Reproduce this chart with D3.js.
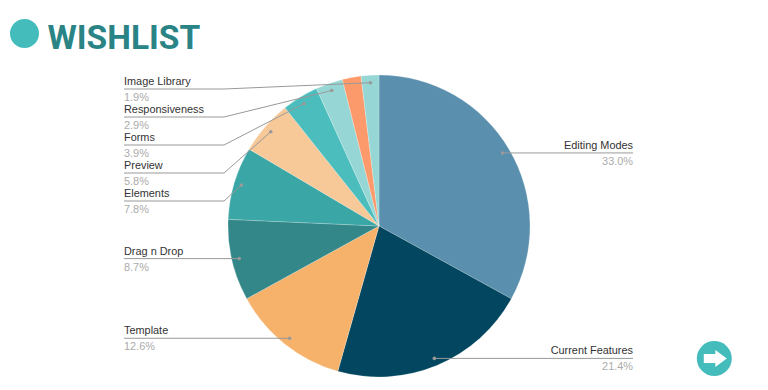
<!DOCTYPE html>
<html><head><meta charset="utf-8">
<script src="https://cdn.jsdelivr.net/npm/d3@7/dist/d3.min.js"></script>
<style>html,body{margin:0;padding:0;background:#fff}svg{display:block}</style></head>
<body><svg id="c" width="768" height="390"></svg>
<script>
const categories = ["Editing Modes","Current Features","Template","Drag n Drop","Elements","Preview","Forms","Responsiveness","","Image Library"];
const values = [33.0,21.4,12.6,8.7,7.8,5.8,3.9,2.9,2.0,1.9];
const valueLabels = ["33.0%","21.4%","12.6%","8.7%","7.8%","5.8%","3.9%","2.9%","","1.9%"];
const colors = ["#5a8fae","#02475f","#f6b26b","#338789","#3aa6a6","#f7c999","#4bbdbc","#96d7d6","#fd9a6b","#96d7d6"];
const titleText = "WISHLIST";

const svg = d3.select("#c");
const cx = 379, cy = 226, R = 151, dotR = 143.5;
const pie = d3.pie().sort(null).value(d => d)(values);
const arc = d3.arc().innerRadius(0).outerRadius(R);
const dotArc = d3.arc().innerRadius(dotR).outerRadius(dotR);

svg.append("circle").attr("cx",24.5).attr("cy",33.5).attr("r",14.5).attr("fill","#45bcbc");
svg.append("text").attr("x",47.5).attr("y",49).text(titleText)
  .attr("font-family","Roboto").attr("font-weight",700).attr("font-size",33.5).attr("fill","#2a8486");

const g = svg.append("g").attr("transform",`translate(${cx},${cy})`);
g.selectAll("path").data(pie).join("path").attr("d",arc)
  .attr("fill",(d,i)=>colors[i]).attr("stroke","#fff").attr("stroke-opacity",0.35).attr("stroke-width",0.6);

const stackTop = 89, stackGap = 28, leftX = 124, elbowX = 224, rightX = 633;
// the small slices on the upper left stack their labels, in reverse slice order
const stacked = [9,7,6,5,4];
const font = "Liberation Sans, Arial, sans-serif";
const lab = svg.append("g");
pie.forEach((d,i) => {
  if (!categories[i]) return;
  const [dx,dy] = dotArc.centroid(d);
  const px = cx+dx, py = cy+dy;
  const right = (d.startAngle+d.endAngle)/2 < Math.PI;
  const s = stacked.indexOf(i);
  const ly = s >= 0 ? stackTop + s*stackGap : py;
  const pts = right ? [[px,py],[rightX,py]]
    : s >= 0 ? [[px,py],[elbowX,ly],[leftX,ly]] : [[px,py],[leftX,py]];
  lab.append("path").attr("d",d3.line()(pts)).attr("fill","none").attr("stroke","#999").attr("stroke-width",1);
  lab.append("circle").attr("cx",px).attr("cy",py).attr("r",1.8).attr("fill","#999");
  const tx = right ? rightX : leftX, anchor = right ? "end" : "start";
  lab.append("text").attr("x",tx).attr("y",ly-4).attr("text-anchor",anchor).text(categories[i])
    .attr("font-family",font).attr("font-size",10.9).attr("fill","#333");
  lab.append("text").attr("x",tx).attr("y",ly+12).attr("text-anchor",anchor).text(valueLabels[i])
    .attr("font-family",font).attr("font-size",10.9).attr("fill","#ababab");
});

const nav = svg.append("g").attr("transform","translate(714.3,358.5)");
nav.append("circle").attr("r",17.5).attr("fill","#45bcbc");
nav.append("path").attr("d","M-10.5,-4.5H1V-8.5L12.5,0L1,8.5V4.5H-10.5Z").attr("fill","#fff");
</script></body></html>
